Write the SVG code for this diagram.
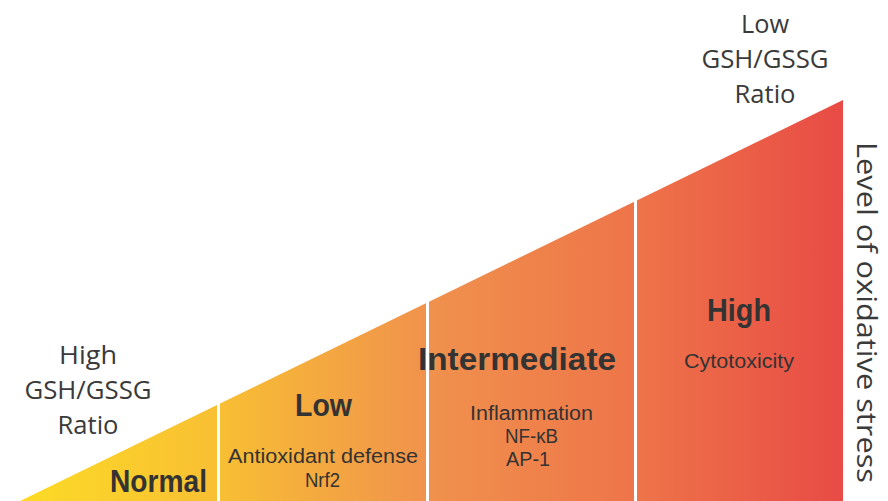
<svg xmlns="http://www.w3.org/2000/svg" width="888" height="501" viewBox="0 0 888 501">
<defs>
<linearGradient id="g" gradientUnits="userSpaceOnUse" x1="20" y1="0" x2="843" y2="0">
<stop offset="0" stop-color="#FCDB26"/>
<stop offset="0.24" stop-color="#F8BF33"/>
<stop offset="0.5" stop-color="#F0914D"/>
<stop offset="0.75" stop-color="#EE7449"/>
<stop offset="1" stop-color="#E84B45"/>
</linearGradient>
<style>
.lbl{font-family:"Open Sans","Liberation Sans",sans-serif;font-size:26px;fill:#3a3a3a;text-anchor:middle}
.hd{font-family:"Liberation Sans",Arial,sans-serif;font-weight:bold;font-size:31px;fill:#333;text-anchor:middle}
.sub{font-family:"Liberation Sans",Arial,sans-serif;font-size:20px;fill:#333;text-anchor:middle}
.div{stroke:#fff;stroke-width:3}
</style>
</defs>
<g id="triangle">
<polygon points="20,501 843,100 843,501" fill="url(#g)"/>
</g>
<g id="connectors">
<line class="div" x1="218.5" y1="400" x2="218.5" y2="501"/>
<line class="div" x1="427.5" y1="295" x2="427.5" y2="501"/>
<line class="div" x1="635.5" y1="195" x2="635.5" y2="501"/>
</g>
<g id="high-ratio">
<text class="lbl" x="88" y="364" textLength="58" lengthAdjust="spacingAndGlyphs">High</text>
<text class="lbl" x="88" y="399" textLength="127" lengthAdjust="spacingAndGlyphs">GSH/GSSG</text>
<text class="lbl" x="88" y="434" textLength="61" lengthAdjust="spacingAndGlyphs">Ratio</text>
</g>
<g id="low-ratio">
<text class="lbl" x="765" y="33" textLength="48" lengthAdjust="spacingAndGlyphs">Low</text>
<text class="lbl" x="765" y="68" textLength="127" lengthAdjust="spacingAndGlyphs">GSH/GSSG</text>
<text class="lbl" x="765" y="103" textLength="61" lengthAdjust="spacingAndGlyphs">Ratio</text>
</g>
<g id="normal">
<text class="hd" x="158.5" y="492" textLength="97" lengthAdjust="spacingAndGlyphs">Normal</text>
</g>
<g id="low">
<text class="hd" x="323.5" y="416" textLength="57" lengthAdjust="spacingAndGlyphs">Low</text>
<text class="sub" x="323" y="463" font-size="22" textLength="190" lengthAdjust="spacingAndGlyphs">Antioxidant defense</text>
<text class="sub" x="322.5" y="487" textLength="35" lengthAdjust="spacingAndGlyphs">Nrf2</text>
</g>
<g id="intermediate">
<text class="hd" x="517" y="370" textLength="198" lengthAdjust="spacingAndGlyphs">Intermediate</text>
<text class="sub" x="531.5" y="420" textLength="123" lengthAdjust="spacingAndGlyphs">Inflammation</text>
<text class="sub" x="531.5" y="443" textLength="53" lengthAdjust="spacingAndGlyphs">NF-κB</text>
<text class="sub" x="528" y="466" textLength="44" lengthAdjust="spacingAndGlyphs">AP-1</text>
</g>
<g id="high">
<text class="hd" x="739" y="321" textLength="64" lengthAdjust="spacingAndGlyphs">High</text>
<text class="sub" x="739" y="368" font-size="22" textLength="110" lengthAdjust="spacingAndGlyphs">Cytotoxicity</text>
</g>
<g id="axis-label">
<text transform="translate(857,142) rotate(90)" font-family="'Open Sans','Liberation Sans',sans-serif" font-size="28" fill="#3a3a3a" textLength="341" lengthAdjust="spacingAndGlyphs">Level of oxidative stress</text>
</g>
</svg>
